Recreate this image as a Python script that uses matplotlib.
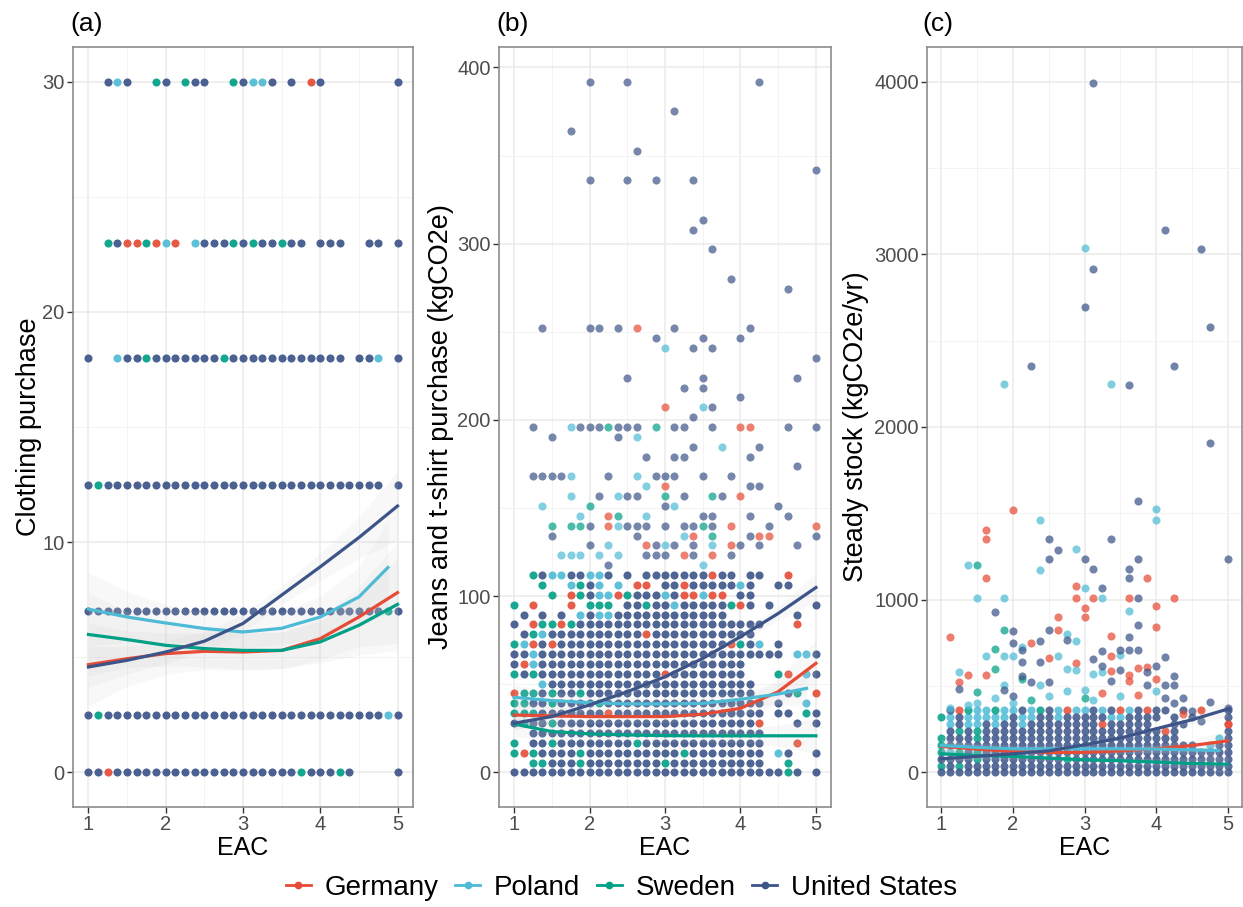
import numpy as np
import matplotlib.pyplot as plt
from matplotlib.lines import Line2D

plt.rcParams['font.family'] = ['Liberation Sans', 'DejaVu Sans']

countries = ["Germany", "Poland", "Sweden", "United States"]
codes = ["G", "P", "S", "U"]
colors = ["#E64B35", "#4DBBD5", "#00A087", "#3C5488"]

# EAC answer levels (x positions of the point columns)
eac = [1.0, 1.125, 1.25, 1.375, 1.5, 1.625, 1.75, 1.875, 2.0, 2.125, 2.25,
       2.375, 2.5, 2.625, 2.75, 2.875, 3.0, 3.125, 3.25, 3.375, 3.5, 3.625,
       3.75, 3.875, 4.0, 4.125, 4.25, 4.375, 4.5, 4.625, 4.75, 4.875, 5.0]

# (a) clothing purchase: one row per answer level, one char per EAC column
a_levels = [30, 23, 18, 12.5, 7, 2.5, 0]
a_rows = [
    "..UPU..SU.S" + "UU..SUPPU.U" + ".GU.......U",
    "..SUGGSGPG." + "PUUUSUSUUSU" + "U.UUU..UU.U",
    "U..PUUSUUUU" + "UUUSUUUUUUU" + "UUUUU.UUP.U",
    "USUUUUUUUUU" + "UUUUUUUUUUU" + "UUUUUUUUU.U",
    "UUUUUUUUUUU" + "UUUUUUUUUUU" + "UUUUUUUUUSU",
    "USUUUUUUUUU" + "UUUUUUUUUUU" + "UUUUUUUUUPU",
    "UUGUUUUUUUU" + "UUUUUUUUUUU" + "SUUUSU....U",
]

# (b) jeans and t-shirt purchase, dense part
b_levels = [0.0, 5.6, 11.2, 16.8, 22.4, 28.0, 33.6, 39.2, 44.8, 50.4, 56.0,
            61.6, 67.2, 72.8, 78.4, 84.0, 89.6, 95.2, 100.8, 106.4, 112.0]
b_rows = [
    "UUUUUUUUUUU" + "UUUUUUUUUUU" + "UUUUUUUSU.U",
    "..SSUUUSUUU" + "UUUUUSUUUUU" + "UUUUU..S...",
    "SGSUUUUSUUU" + "UUUUUUUSUUU" + "UUUUU.PU..U",
    "S.UUSUUUUUU" + "UUSUUUUUUUU" + "UUUUU...G..",
    "..UUUUUUUUU" + "UUUUUUUUUUU" + "UUUUU......",
    "USUUSUUUUUU" + "UUUUUUUUUUU" + "UUUUG...U.U",
    "SSSUUUUUUUG" + "UUUUUUUUUUU" + "UUUUU.UU.SU",
    "SSUUSUUUUSU" + "UUUUUUUUUUU" + "UUUUU.U..P.",
    "GSSUSUUSUUU" + "UUUUUUUUUUU" + "UUUU...US.G",
    "...PUUUUUUU" + "UUUUUUUUUUU" + "UUUU.......",
    "SUSUUUUUUUU" + "UUUUUGUUUUU" + "UUU...SG.PU",
    "UGPUUUUUUUU" + "UUUUUUUUUUU" + "UUU........",
    "UUPUUUUUUUU" + "UUUUUUUUUUU" + "UUUUUUU.PPU",
    "SPGUGUUUUUU" + "UUUUUUUUUUU" + "UGSUP.U....",
    ".USPUUUUUUU" + "UUUGUUUUUUU" + "UUUU.......",
    "U.GSSGSUUUU" + "UUUUUUUUUUU" + "UUUUU...G..",
    ".U.U.U.PUPP" + "UUUUUUUUUUU" + "U.......U..",
    "S.G...G.SSS" + ".UUSUUPUUUU" + "USGU.U....U",
    "....S.GSUPP" + "GSUUUPUGGPG" + "G.UU.......",
    "...S..PSUP." + "P.GG.UUGUUU" + "UUPU..UU...",
    "..SUPPUUPPU" + ".U.UUUUUUUG" + "UU.UU..G...",
]
# (b) sparse part: level, "column-index + country" entries
b_upper = [
    (117.6, "10U 20P"),
    (123.2, "5P 6P 7P 9P 11P 14U 15U 16U 18G 19U 21G 23U"),
    (128.8, "8U 10P 14G 15U 16P 17U 19U 21P 23G 24U 26U 30U"),
    (134.4, "4U 13U 18P 19G 21S 25U 26G 27G 32U"),
    (140.0, "4S 6S 7S 8U 10G 11P 12U 13U 14U 16U 18U 19U 20S 21U 23G 27U 32G"),
    (145.6, "7P 10G 11S 14P 20U 21U 25U 29U"),
    (151.2, "3P 8S 16U 17P 28U"),
    (156.8, "6P 9U 11P 12U 13U 16S 18U 21S 22U 24G"),
    (162.4, "14P 16G 25U 26U"),
    (168.0, "2U 3U 4U 5U 6P 10U 13P 15U 16U 17U 20U 23U"),
    (173.6, "30U"),
    (179.2, "14U 17U 18U 25U"),
    (184.8, "19U 22P 26U"),
    (190.4, "4U 11U 13P"),
    (196.0, "2U 6P 7U 8U 9U 10S 11U 12U 13U 15S 17U 18U 21U 24G 25G 29U 32U"),
    (201.6, "19U"),
    (207.2, "16G 20P 21U"),
    (212.8, "24U"),
    (218.4, "18U 20U"),
    (224.0, "12U 20U 30U"),
    (235.2, "32U"),
    (240.8, "16P 19U 21U"),
    (246.4, "15U 20U 24U"),
    (252.0, "3U 8U 9U 11U 13G 17U 25U"),
    (274.4, "29U"),
    (280.0, "23U"),
    (296.8, "21U"),
    (308.0, "19U"),
    (313.6, "20U"),
    (336.0, "8U 12U 15U 19U"),
    (341.6, "32U"),
    (352.8, "13U"),
    (364.0, "6U"),
    (375.2, "17U"),
    (392.0, "8U 12U 26U"),
]

# (c) steady stock, dense part
c_levels = [0, 40, 80, 120, 160, 200, 240, 280, 320, 360]
c_rows = [
    "UUUUUUUUUUU" + "UUUUUUUUUUU" + "UUUUUUUUUUU",
    "SUSUUUUUUUU" + "UUUUUUUUUUU" + "UUUUUUUUUUU",
    "UUUUSUUUUUU" + "UUUSUUUUUUU" + "UUUUUUUUUUU",
    "SPSUSUUUUUU" + "UUUUUUUUUUU" + "UUUUUUUUUUU",
    "SUUUUUUUUUU" + "UUUUUUUUUUU" + "UUUUUUU.PUU",
    "SUUUSUUUUUU" + "UUUUUUUUUUU" + "UUUUU....PU",
    ".USUSUUUUUU" + "UUUUUUUUUUU" + "UUUGU.....U",
    ".PUPPUPUUPU" + "UUUUUUUGUUU" + "UU..UU....G",
    "SPUPPPPPUPP" + "UUPUUUUUPPU" + "UUU.U.U...U",
    ".UGSPPSPPUP" + "SUPGPPUPUGP" + "UGUU.U.G..U",
]
# (c) sparse part: column index, value, country
c_upper = [
    (17, 3994, "U"), (25, 3141, "U"), (16, 3037, "P"), (29, 3029, "U"),
    (17, 2917, "U"), (16, 2692, "U"), (30, 2580, "U"), (10, 2356, "U"),
    (26, 2356, "U"), (7, 2248, "P"), (19, 2248, "P"), (21, 2242, "U"),
    (30, 1906, "U"), (22, 1569, "U"), (8, 1517, "G"), (24, 1528, "P"),
    (11, 1461, "P"), (24, 1461, "P"), (5, 1405, "G"), (5, 1349, "G"),
    (12, 1349, "U"), (19, 1349, "U"), (13, 1290, "U"), (15, 1293, "P"),
    (4, 1199, "S"), (3, 1199, "P"), (12, 1234, "U"), (16, 1234, "U"),
    (22, 1234, "U"), (32, 1234, "U"), (11, 1172, "P"), (17, 1176, "U"),
    (21, 1178, "U"), (5, 1124, "G"), (21, 1124, "U"), (23, 1124, "G"),
    (18, 1066, "U"), (15, 1079, "G"), (16, 1070, "P"), (4, 1012, "P"),
    (7, 1012, "P"), (15, 1010, "G"), (17, 1010, "G"), (18, 1010, "P"),
    (21, 1010, "G"), (22, 1010, "U"), (26, 1010, "G"), (24, 965, "G"),
    (16, 954, "G"), (21, 936, "P"), (6, 927, "U"), (16, 898, "G"),
    (13, 898, "G"), (22, 851, "U"), (24, 842, "G"), (7, 824, "S"),
    (12, 824, "U"), (13, 822, "G"), (8, 817, "U"), (14, 803, "P"),
    (19, 790, "G"), (1, 786, "G"), (21, 784, "U"), (14, 766, "U"),
    (15, 763, "P"), (11, 759, "U"), (8, 749, "U"), (10, 749, "G"),
    (9, 728, "P"), (6, 712, "S"), (9, 708, "U"), (18, 703, "U"),
    (20, 708, "U"), (21, 710, "U"), (22, 710, "U"), (5, 676, "P"),
    (7, 676, "P"), (8, 672, "P"), (13, 674, "P"), (19, 676, "G"),
    (20, 678, "P"), (25, 670, "U"), (12, 664, "G"), (17, 658, "U"),
    (11, 641, "U"), (9, 639, "U"), (15, 635, "G"), (18, 616, "U"),
    (24, 616, "U"), (22, 606, "G"), (23, 610, "G"), (6, 598, "S"),
    (14, 598, "P"), (15, 591, "P"), (20, 595, "U"), (19, 589, "G"),
    (2, 581, "P"), (18, 581, "P"), (23, 583, "U"), (17, 570, "P"),
    (21, 566, "G"), (3, 562, "G"), (5, 562, "G"), (9, 560, "U"),
    (26, 558, "U"), (24, 542, "G"), (9, 541, "S"), (19, 527, "U"),
    (21, 527, "G"), (2, 525, "G"), (10, 521, "U"), (12, 521, "U"),
    (7, 508, "P"), (11, 508, "P"), (23, 506, "U"), (25, 506, "U"),
    (26, 506, "U"), (2, 486, "U"), (16, 479, "P"), (7, 477, "U"),
    (24, 471, "P"), (4, 467, "S"), (14, 470, "P"), (18, 460, "G"),
    (12, 445, "P"), (8, 440, "U"), (20, 440, "P"), (22, 450, "G"),
    (6, 430, "P"), (16, 430, "S"), (25, 430, "U"), (27, 429, "U"),
    (10, 420, "S"), (17, 420, "P"), (30, 405, "U"), (4, 400, "P"),
    (8, 400, "P"), (26, 400, "U"), (3, 388, "P"), (1, 372, "P"),
    (32, 372, "U"), (28, 353, "U"), (27, 340, "G"), (29, 295, "U"),
    (32, 282, "G"),
]

# loess fits (order: Germany, Poland, Sweden, US)
fit_x = [1, 1.5, 2, 2.5, 3, 3.5, 4, 4.5, 5]
fit_x_pl = [1, 1.5, 2, 2.5, 3, 3.5, 4, 4.5, 4.875]

a_fit = [[4.68, 4.94, 5.16, 5.26, 5.23, 5.30, 5.81, 6.75, 7.81],
         [7.09, 6.75, 6.49, 6.25, 6.10, 6.26, 6.75, 7.62, 8.90],
         [5.99, 5.77, 5.52, 5.38, 5.30, 5.30, 5.67, 6.39, 7.30],
         [4.58, 4.87, 5.23, 5.70, 6.47, 7.70, 8.93, 10.2, 11.57]]
a_band = [[1.8, 1.2, 0.9, 0.8, 0.8, 0.8, 0.9, 1.3, 2.2],
          [1.6, 1.1, 0.8, 0.7, 0.7, 0.7, 0.9, 1.3, 2.0],
          [1.8, 1.2, 0.9, 0.8, 0.8, 0.8, 0.9, 1.3, 2.0],
          [0.9, 0.6, 0.5, 0.4, 0.4, 0.4, 0.6, 0.9, 1.5]]

b_fit = [[32.6, 32.1, 31.7, 31.7, 31.7, 33.0, 36.4, 45.8, 61.9],
         [42.6, 40.8, 39.6, 38.9, 38.9, 39.2, 41.5, 44.5, 47.7],
         [27.5, 23.2, 21.9, 21.3, 20.9, 20.8, 20.8, 20.8, 20.8],
         [27.9, 31.7, 38.3, 45.8, 54.3, 64.7, 77.0, 90.2, 104.9]]
b_band = [[8, 5, 4, 3.5, 3.5, 3.5, 4.5, 7, 13],
          [7, 5, 4, 3.5, 3.5, 3.5, 4, 6, 10],
          [7, 5, 4, 3.5, 3.5, 3.5, 4, 6, 10],
          [4, 3, 2.5, 2, 2, 2, 2.5, 4, 8]]

c_fit = [[151, 135, 122, 116, 116, 125, 137, 156, 183],
         [156, 145, 137, 137, 137, 137, 135, 131, 127],
         [108, 98, 93, 83, 73, 68, 60, 52, 48],
         [79, 93, 108, 125, 160, 199, 253, 305, 367]]
c_band = [[40, 25, 20, 18, 18, 18, 22, 35, 60],
          [35, 25, 20, 18, 18, 18, 20, 30, 50],
          [35, 25, 20, 18, 18, 18, 20, 30, 50],
          [20, 15, 12, 10, 10, 10, 14, 25, 45]]


def collect(levels, rows):
    pts = {c: ([], []) for c in codes}
    for y, row in zip(levels, rows):
        for i, ch in enumerate(row):
            if ch in pts:
                pts[ch][0].append(eac[i])
                pts[ch][1].append(y)
    return pts


def collect_upper(entries):
    pts = {c: ([], []) for c in codes}
    for y, s in entries:
        for tok in s.split():
            pts[tok[-1]][0].append(eac[int(tok[:-1])])
            pts[tok[-1]][1].append(y)
    return pts


def collect_list(entries):
    pts = {c: ([], []) for c in codes}
    for i, v, c in entries:
        pts[c][0].append(eac[i])
        pts[c][1].append(v)
    return pts


W, H = 1243, 907
fig = plt.figure(figsize=(W / 100, H / 100), dpi=100)


def add_axes(left, right, top=47, bottom=807):
    return fig.add_axes([left / W, 1 - bottom / H, (right - left) / W, (bottom - top) / H])


def style(ax, ylim, yticks, yminor, ylabel, label_x, tag, tag_x):
    ax.set_xlim(0.8, 5.2)
    ax.set_ylim(*ylim)
    ax.set_xticks([1, 2, 3, 4, 5])
    ax.set_xticks([1.5, 2.5, 3.5, 4.5], minor=True)
    ax.set_yticks(yticks)
    ax.set_yticks(yminor, minor=True)
    ax.grid(which='major', color='#EBEBEB', lw=1.1)
    ax.grid(which='minor', color='#F3F3F3', lw=0.7)
    ax.set_axisbelow(True)
    ax.tick_params(which='major', length=4, width=1, color='#333333',
                   labelsize=14.5, labelcolor='#4D4D4D', pad=2)
    ax.tick_params(which='minor', length=0)
    for sp in ax.spines.values():
        sp.set_color('#8C8C8C')
        sp.set_linewidth(1.2)
    ax.set_xlabel("EAC", fontsize=18, va='center')
    ax.xaxis.set_label_coords(0.5, -0.054)
    ax.set_ylabel(ylabel, fontsize=19.5, va='center')
    ax.yaxis.set_label_coords(label_x, 0.5)
    fig.text(tag_x / W, 1 - 24 / H, tag, fontsize=19, ha='left', va='center')


def draw(ax, point_sets, fits, bands):
    for pts, alpha in point_sets:
        for c, col in zip(codes, colors):
            ax.scatter(pts[c][0], pts[c][1], s=34, color=col, alpha=alpha,
                       linewidths=0, zorder=2)
    for k, col in enumerate(colors):
        xs = fit_x_pl if k == 1 else fit_x
        f = np.array(fits[k])
        b = np.array(bands[k])
        ax.fill_between(xs, f - b, f + b, color='#C8C8C8', alpha=0.12, lw=0, zorder=3)
    for k, col in enumerate(colors):
        xs = fit_x_pl if k == 1 else fit_x
        ax.plot(xs, fits[k], color=col, lw=2.3, zorder=4, solid_joinstyle='round')


ax_a = add_axes(73, 413)
draw(ax_a, [(collect(a_levels, a_rows), 0.92)], a_fit, a_band)
style(ax_a, (-1.5, 31.5), [0, 10, 20, 30], [5, 15, 25],
      "Clothing purchase", -0.13, "(a)", 70)

ax_b = add_axes(499, 831)
draw(ax_b, [(collect(b_levels, b_rows), 0.9), (collect_upper(b_upper), 0.7)],
     b_fit, b_band)
style(ax_b, (-19.6, 411.6), [0, 100, 200, 300, 400], [50, 150, 250, 350],
      "Jeans and t-shirt purchase (kgCO2e)", -0.175, "(b)", 496)

ax_c = add_axes(927, 1242)
draw(ax_c, [(collect(c_levels, c_rows), 0.85), (collect_list(c_upper), 0.72)],
     c_fit, c_band)
style(ax_c, (-200, 4200), [0, 1000, 2000, 3000, 4000], [500, 1500, 2500, 3500],
      "Steady stock (kgCO2e/yr)", -0.225, "(c)", 922)

handles = [Line2D([0], [0], color=col, lw=2, marker='o', markersize=4.5)
           for col in colors]
fig.legend(handles, countries, loc='center', bbox_to_anchor=(0.5, 1 - 888 / H),
           ncol=4, frameon=False, fontsize=20, handlelength=0.9,
           handletextpad=0.5, columnspacing=0.6)

fig.savefig("out.png", dpi=100)
